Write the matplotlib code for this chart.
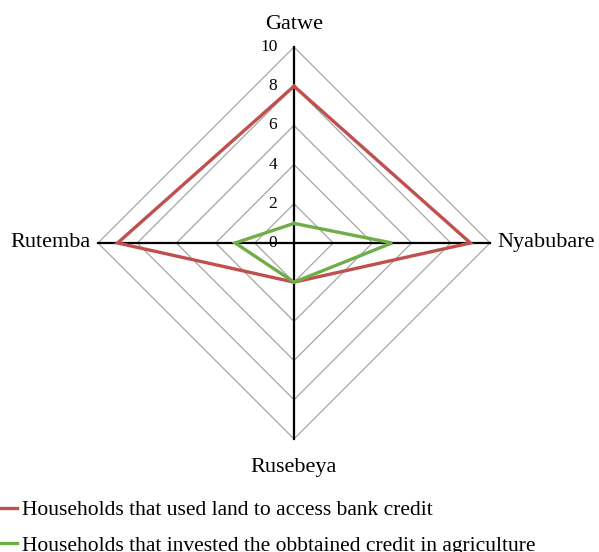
import numpy as np
import matplotlib.pyplot as plt
from matplotlib.lines import Line2D

# data ==========================================================
categories = ['Gatwe', 'Nyabubare', 'Rusebeya', 'Rutemba']
used_land = [8, 9, 2, 9]
invested_agri = [1, 5, 2, 3]
series_names = ['Households that used land to access bank credit',
                'Households that invested the obbtained credit in agriculture']
ticks = [0, 2, 4, 6, 8, 10]

red = '#C0504D'
green = '#70AD47'
plt.rcParams['font.family'] = ['Liberation Serif', 'DejaVu Serif']

# clockwise from top
angles = np.pi / 2 - np.arange(len(categories)) * 2 * np.pi / len(categories)


def to_xy(vals):
    vals = np.asarray(vals, dtype=float)
    x = vals * np.cos(angles)
    y = vals * np.sin(angles)
    return np.append(x, x[0]), np.append(y, y[0])


fig = plt.figure(figsize=(5.99, 5.52), dpi=100)
ax = fig.add_axes([0, 0, 1, 1])
ax.set_xlim(-15.0, 15.56)
ax.set_ylim(-15.77, 12.40)
ax.axis('off')

# grid diamonds
for t in ticks[1:]:
    gx, gy = to_xy([t] * len(categories))
    ax.plot(gx, gy, color='#A6A6A6', lw=0.9, zorder=1)

# spokes
rmax = ticks[-1]
for a in angles:
    ax.plot([0, rmax * np.cos(a)], [0, rmax * np.sin(a)], color='black', lw=1.6, zorder=2)

# tick labels
for t in ticks:
    ax.text(-0.85, t, str(t), ha='right', va='center', fontsize=12.5)

# category labels
ax.text(0, 11.15, categories[0], ha='center', va='center', fontsize=16)
ax.text(10.4, 0, categories[1], ha='left', va='center', fontsize=16)
ax.text(0, -11.45, categories[2], ha='center', va='center', fontsize=16)
ax.text(-10.4, 0, categories[3], ha='right', va='center', fontsize=16)

# series
for vals, c in [(used_land, red), (invested_agri, green)]:
    sx, sy = to_xy(vals)
    ax.plot(sx, sy, color=c, lw=2.4, zorder=3, solid_joinstyle='miter')

handles = [Line2D([], [], color=red, lw=2.4), Line2D([], [], color=green, lw=2.4)]
fig.legend(handles, series_names, loc='upper left', bbox_to_anchor=(-0.005, 0.094),
           frameon=False, fontsize=15.5, handlelength=0.95, handletextpad=0.2,
           borderpad=0, borderaxespad=0, labelspacing=0.72)

fig.savefig('out.png', dpi=100)
